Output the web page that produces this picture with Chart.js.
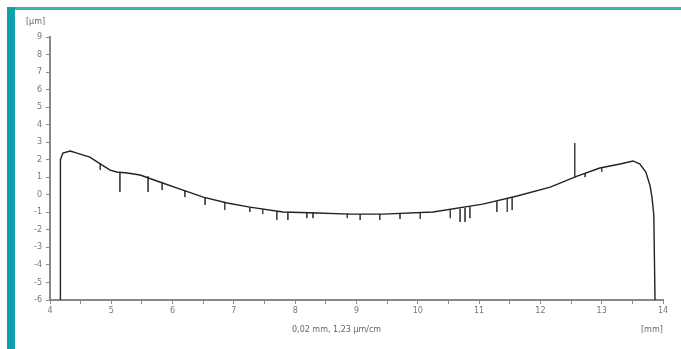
<!DOCTYPE html>
<html>
<head>
<meta charset="utf-8">
<script src="https://cdn.jsdelivr.net/npm/chart.js@4/dist/chart.umd.min.js"></script>
<style>
  html,body{margin:0;padding:0;background:#fff;}
  #wrap{position:relative;width:681px;height:349px;overflow:hidden;background:#fff;}
  #bl{position:absolute;left:7px;top:7px;width:8px;height:342px;background:#0fa0ad;}
  #bt{position:absolute;left:15px;top:7px;width:666px;height:3px;background:#3ab4bd;}
  canvas{position:absolute;left:0;top:0;}
  .lbl{position:absolute;font:8px "DejaVu Sans",sans-serif;color:#666;white-space:nowrap;}
</style>
</head>
<body>
<div id="wrap">
  <canvas id="c" width="681" height="349"></canvas>
  <div id="bl"></div><div id="bt"></div>
  <div class="lbl" style="left:26px;top:17px;">[µm]</div>
  <div class="lbl" style="left:292px;top:325px;">0,02 mm, 1,23 µm/cm</div>
  <div class="lbl" style="left:641px;top:325px;">[mm]</div>
</div>
<script>
// profile (x in mm, y in µm)
const profileX = [4.17, 4.17, 4.21, 4.33, 4.44, 4.65, 4.82, 4.98, 5.09, 5.26, 5.47, 5.79, 6.17, 6.50, 6.89, 7.26, 7.80, 8.36, 8.89, 9.43, 10.25, 11.06, 11.62, 12.16, 12.60, 12.97, 13.30, 13.51, 13.62, 13.72, 13.79, 13.82, 13.85, 13.87];
const profileY = [-6.0, 2.0, 2.38, 2.50, 2.38, 2.15, 1.76, 1.41, 1.30, 1.24, 1.13, 0.73, 0.27, -0.13, -0.47, -0.70, -0.98, -1.04, -1.10, -1.10, -0.98, -0.53, -0.07, 0.44, 1.07, 1.53, 1.76, 1.93, 1.76, 1.30, 0.50, -0.13, -1.15, -6.0];
// spikes (x in mm, top and bottom in µm)
const spikeX      = [4.82, 5.14, 5.60, 5.83, 6.20, 6.53, 6.85, 7.26, 7.47, 7.70, 7.88, 8.19, 8.29, 8.85, 9.06, 9.38, 9.71, 10.04, 10.53, 10.69, 10.77, 10.85, 11.29, 11.46, 11.54, 12.56, 12.73, 13.00];
const spikeTop    = [1.76, 1.28, 1.05, 0.70, 0.25, -0.15, -0.45, -0.70, -0.82, -0.93, -1.00, -1.02, -1.03, -1.08, -1.10, -1.10, -1.08, -1.05, -0.88, -0.80, -0.76, -0.70, -0.38, -0.22, -0.13, 2.95, 1.20, 1.55];
const spikeBottom = [1.41, 0.16, 0.16, 0.27, -0.13, -0.58, -0.87, -0.98, -1.10, -1.44, -1.44, -1.33, -1.33, -1.33, -1.44, -1.44, -1.38, -1.38, -1.33, -1.55, -1.55, -1.33, -0.98, -0.98, -0.87, 1.00, 1.01, 1.30];
const yMin = -6, yMax = 9, xMin = 4, xMax = 14;

const profile = profileX.map((x,i)=>({x, y: profileY[i]}));
const spikes = [];
spikeX.forEach((x,i)=>{ spikes.push({x, y: spikeTop[i]}, {x, y: spikeBottom[i]}, {x, y: null}); });

new Chart(document.getElementById('c'), {
  type: 'scatter',
  data: { datasets: [
    { data: profile, showLine: true, borderColor: '#222', borderWidth: 1.4, pointRadius: 0, tension: 0, fill: false },
    { data: spikes, showLine: true, spanGaps: false, borderColor: '#444', borderWidth: 1, pointRadius: 0, tension: 0, fill: false }
  ]},
  options: {
    responsive: false, animation: false,
    layout: { padding: { left: 0, right: 18, top: 37, bottom: 0 } },
    plugins: { legend: { display: false }, tooltip: { enabled: false } },
    scales: {
      x: { type: 'linear', min: xMin, max: xMax,
        border: { color: '#888', width: 2 },
        grid: { display: true, drawOnChartArea: false, color: '#888', tickLength: 4 },
        ticks: { stepSize: 0.5, autoSkip: false, maxRotation: 0, padding: 2, color: '#777', font: { size: 8, family: 'DejaVu Sans' },
          callback: v => Number.isInteger(v) ? String(v) : '' },
        afterFit: s => { s.height = 49; }
      },
      y: { type: 'linear', min: yMin, max: yMax,
        border: { color: '#888', width: 2 },
        grid: { display: true, drawOnChartArea: false, color: '#888', tickLength: 4 },
        ticks: { stepSize: 1, autoSkip: false, padding: 4, color: '#777', font: { size: 8, family: 'DejaVu Sans' } },
        afterFit: s => { s.width = 50; }
      }
    }
  }
});
</script>
</body>
</html>
